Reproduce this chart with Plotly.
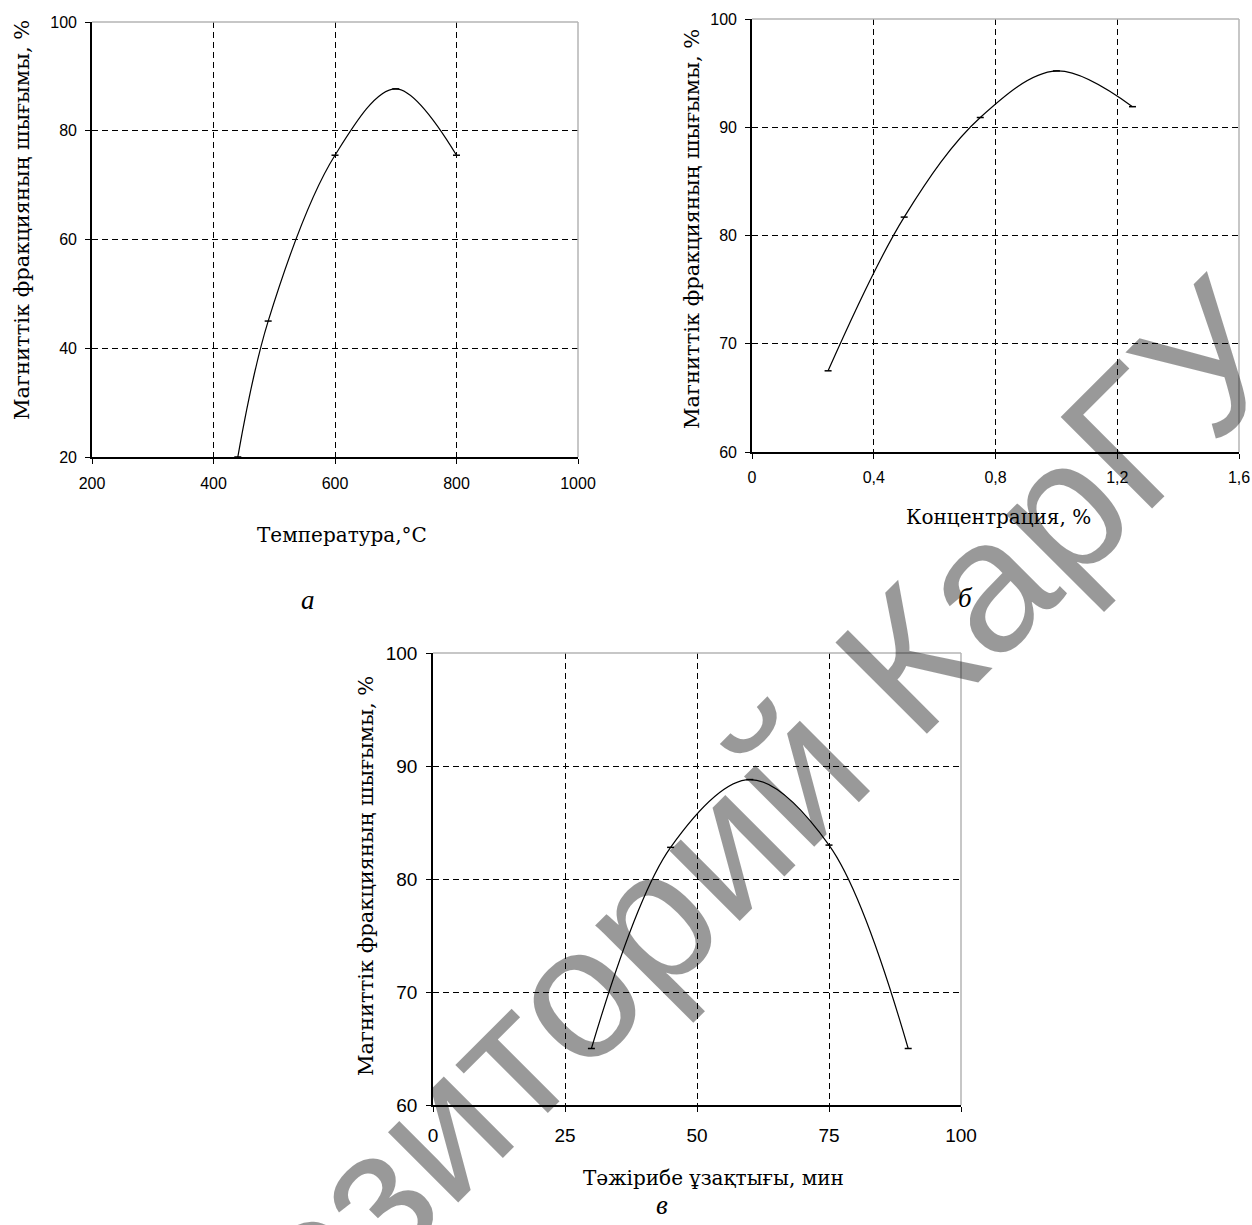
import plotly.graph_objects as go

W, H = 1252, 1225

# ---- data ----
temp_x = [440, 490, 600, 700, 800]
temp_y = [20, 45, 75.5, 87.7, 75.5]
conc_x = [0.25, 0.5, 0.75, 1.0, 1.25]
conc_y = [67.5, 81.7, 90.9, 95.2, 91.9]
time_x = [30, 45, 60, 75, 90]
time_y = [65, 82.8, 88.8, 83, 65]

temp_ticks = [200, 400, 600, 800, 1000]
temp_yticks = [20, 40, 60, 80, 100]
conc_ticks = [0, 0.4, 0.8, 1.2, 1.6]
conc_ticktext = ["0", "0,4", "0,8", "1,2", "1,6"]
conc_yticks = [60, 70, 80, 90, 100]
time_ticks = [0, 25, 50, 75, 100]
time_yticks = [60, 70, 80, 90, 100]

y_title = "Магниттік фракцияның шығымы, %"
x_titles = ["Температура,°С", "Концентрация, %", "Тәжірибе ұзақтығы, мин"]
panel_labels = ["а", "б", "в"]
watermark = "Репозиторий КарГУ"


def fx(px):
    return px / W


def fy(py):
    return 1 - py / H


serif = "DejaVu Serif, Times New Roman, serif"
sans = "Liberation Sans, Arial, sans-serif"

fig = go.Figure()
line_style = dict(color="black", width=1.2, shape="spline")
marker_style = dict(symbol="line-ew", size=5, color="black", line=dict(color="black", width=1.5))

fig.add_trace(go.Scatter(x=temp_x, y=temp_y, mode="lines+markers", line=line_style,
                         marker=marker_style, xaxis="x", yaxis="y", showlegend=False))
fig.add_trace(go.Scatter(x=conc_x, y=conc_y, mode="lines+markers", line=line_style,
                         marker=marker_style, xaxis="x2", yaxis="y2", showlegend=False))
fig.add_trace(go.Scatter(x=time_x, y=time_y, mode="lines+markers", line=line_style,
                         marker=marker_style, xaxis="x3", yaxis="y3", showlegend=False))


def ax_common(fontsize, standoff):
    return dict(showline=True, linecolor="black", linewidth=1.6, mirror=False,
                ticks="outside", ticklen=5, tickwidth=1.2, tickcolor="black",
                showgrid=True, gridcolor="black", gridwidth=1.1, griddash="6px,4px",
                zeroline=False, fixedrange=True, automargin=False,
                tickfont=dict(family=sans, size=fontsize, color="black"),
                ticklabelstandoff=standoff)


layout = dict(
    width=W, height=H, autosize=False,
    margin=dict(l=0, r=0, t=0, b=0, pad=0),
    paper_bgcolor="white", plot_bgcolor="white",
    showlegend=False,
)

layout["xaxis"] = dict(domain=[fx(92), fx(578)], range=[200, 1000], anchor="y",
                       tickmode="array", tickvals=temp_ticks, **ax_common(16, 6))
layout["yaxis"] = dict(domain=[fy(457), fy(22)], range=[20, 100], anchor="x",
                       tickmode="array", tickvals=temp_yticks, **ax_common(16, 5))
layout["xaxis2"] = dict(domain=[fx(752), fx(1239)], range=[0, 1.6], anchor="y2",
                        tickmode="array", tickvals=conc_ticks, ticktext=conc_ticktext,
                        **ax_common(16, 5))
layout["yaxis2"] = dict(domain=[fy(452), fy(19)], range=[60, 100], anchor="x2",
                        tickmode="array", tickvals=conc_yticks, **ax_common(16, 5))
layout["xaxis3"] = dict(domain=[fx(433), fx(961)], range=[0, 100], anchor="y3",
                        tickmode="array", tickvals=time_ticks, **ax_common(19, 7))
layout["yaxis3"] = dict(domain=[fy(1105), fy(653)], range=[60, 100], anchor="x3",
                        tickmode="array", tickvals=time_yticks, **ax_common(19, 5))

fig.update_layout(**layout)

# gray top / right frame
shapes = []
for xr, yr in [("x", "y"), ("x2", "y2"), ("x3", "y3")]:
    shapes.append(dict(type="line", xref=f"{xr} domain", yref=f"{yr} domain",
                       x0=0, x1=1, y0=1, y1=1, line=dict(color="#b4b4b4", width=1.5), layer="above"))
    shapes.append(dict(type="line", xref=f"{xr} domain", yref=f"{yr} domain",
                       x0=1, x1=1, y0=0, y1=1, line=dict(color="#b4b4b4", width=1.5), layer="above"))
fig.update_layout(shapes=shapes)

ann = []
# y titles
for (px, py) in [(22, 220), (692, 229), (366, 876)]:
    ann.append(dict(text=y_title, x=fx(px), y=fy(py), xref="paper", yref="paper",
                    textangle=-90, showarrow=False, xanchor="center", yanchor="middle",
                    font=dict(family=serif, size=21, color="black")))
# x titles
for t, (px, py) in zip(x_titles, [(342, 535), (998, 517), (713, 1178)]):
    ann.append(dict(text=t, x=fx(px), y=fy(py), xref="paper", yref="paper",
                    showarrow=False, xanchor="center", yanchor="middle",
                    font=dict(family=serif, size=20, color="black")))
# panel labels
for t, (px, py) in zip(panel_labels, [(308, 600), (965, 598), (662, 1205)]):
    ann.append(dict(text=f"<i>{t}</i>", x=fx(px), y=fy(py), xref="paper", yref="paper",
                    showarrow=False, xanchor="center", yanchor="middle",
                    font=dict(family="Liberation Serif, Times New Roman, serif", size=27, color="black")))
# watermark
ann.append(dict(text=watermark, x=fx(647), y=fy(922), xref="paper", yref="paper",
                showarrow=False, xanchor="center", yanchor="middle", textangle=-45,
                font=dict(family=sans, size=188, color="rgba(0,0,0,0.4)")))
fig.update_layout(annotations=ann)

fig.write_html("out.html", config={"displayModeBar": False},
               post_script="document.body.style.margin='0';")
